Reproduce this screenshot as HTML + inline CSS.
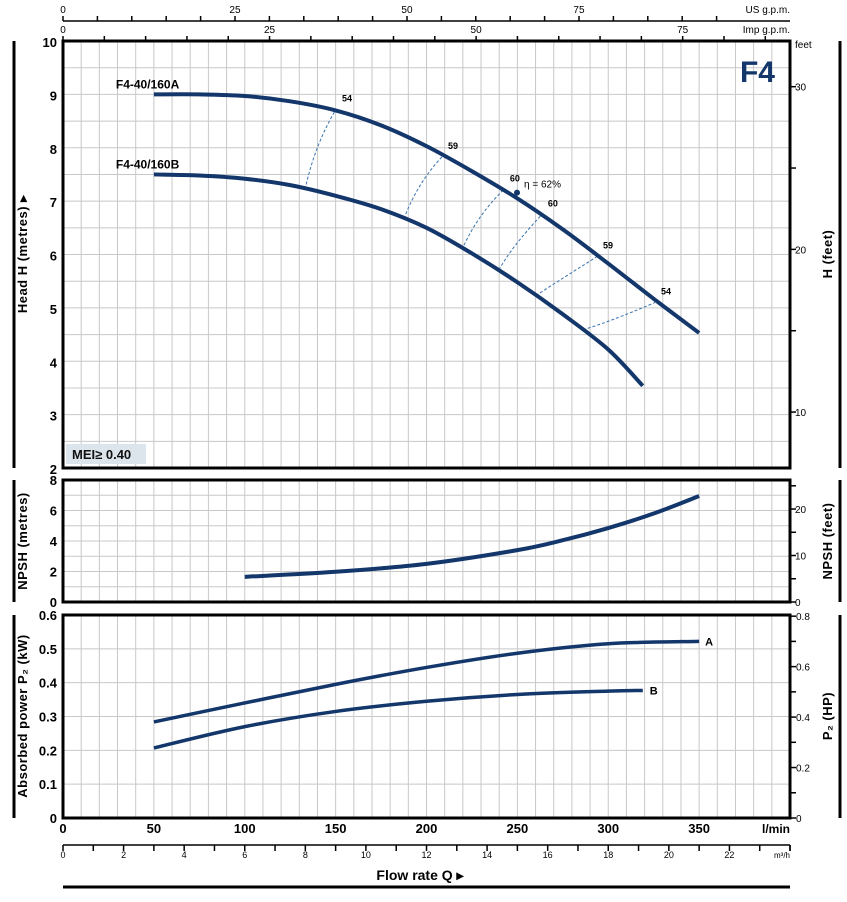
<!DOCTYPE html>
<html><head><meta charset="utf-8"><style>
html,body{margin:0;padding:0;background:#fff;}
svg{display:block;font-family:"Liberation Sans",sans-serif;}
</style></head><body>
<svg id="c" width="847" height="902" viewBox="0 0 847 902" xmlns="http://www.w3.org/2000/svg"></svg>
<script>
// ---- data ----
const headQA=[50,75,100,125,150,175,200,225,250,275,300,325,350];
const headHA=[9.0,9.0,8.97,8.87,8.7,8.42,8.03,7.56,7.05,6.47,5.83,5.17,4.53];
const headQB=[50,75,100,125,150,175,200,225,250,275,300,319];
const headHB=[7.5,7.48,7.42,7.3,7.1,6.85,6.5,6.02,5.48,4.88,4.22,3.54];
const effLabels=["54","59","60","60","59","54"];
const effQA=[150.2,208.5,242.6,263.5,293.8,325.7];
const effHA=[8.72,7.83,7.22,6.75,5.96,5.10];
const effQB=[133.2,187.6,219.5,239.9,260.2,286.1];
const effHB=[7.22,6.67,6.09,5.71,5.23,4.59];
const bepQ=249.8, bepH=7.16;
const npshQ=[100,150,200,250,275,300,325,350];
const npshV=[1.65,1.98,2.5,3.4,4.05,4.85,5.8,6.95];
const powQA=[50,100,150,200,250,300,350];
const powA=[0.284,0.34,0.395,0.445,0.487,0.515,0.522];
const powQB=[50,100,150,200,250,300,319];
const powB=[0.207,0.27,0.315,0.345,0.365,0.375,0.377];
const flowTicks=[0,50,100,150,200,250,300,350];

// ---- scales ----
const X0=63,X1=790;
const x=q=>X0+q*(X1-X0)/400;
const yH=h=>468-(h-2)*(468-41)/8;
const yN=n=>602-n*(602-480)/8;
const yP=p=>818-p*(818-615)/0.6;
const NS="http://www.w3.org/2000/svg";
const svg=document.getElementById('c');
function el(t,a,txt){const e=document.createElementNS(NS,t);for(const k in a)e.setAttribute(k,a[k]);if(txt!==undefined)e.textContent=txt;svg.appendChild(e);return e;}
function line(x1,y1,x2,y2,s,w){return el('line',{x1,y1,x2,y2,stroke:s,'stroke-width':w});}
function smooth(pts){let d=`M${pts[0][0]},${pts[0][1]}`;for(let i=0;i<pts.length-1;i++){const p0=pts[Math.max(0,i-1)],p1=pts[i],p2=pts[i+1],p3=pts[Math.min(pts.length-1,i+2)];d+=` C${p1[0]+(p2[0]-p0[0])/6},${p1[1]+(p2[1]-p0[1])/6} ${p2[0]-(p3[0]-p1[0])/6},${p2[1]-(p3[1]-p1[1])/6} ${p2[0]},${p2[1]}`;}return d;}
const G='#c8c8c8',NAVY='#13366b';

// grids
for(let q=10;q<400;q+=10){const g1=line(x(q),41,x(q),468,G,1);line(x(q),480,x(q),602,G,1);line(x(q),615,x(q),818,G,1);}
for(let h=2.5;h<10;h+=0.5)line(X0,yH(h),X1,yH(h),G,1);
for(let n=1;n<8;n++)line(X0,yN(n),X1,yN(n),G,1);
for(let p=0.1;p<0.59;p+=0.1)line(X0,yP(p),X1,yP(p),G,1);

// frames
[[41,468],[480,602],[615,818]].forEach(([a,b])=>{const r=el('rect',{x:X0,y:a,width:X1-X0,height:b-a,fill:'none',stroke:'#000','stroke-width':3});
 line(14,a,14,b,'#000',3);line(840,a,840,b,'#000',3);});

// left ticks labels
for(let h=2;h<=10;h++){const t=el('text',{x:57,y:yH(h)+6,'text-anchor':'end','font-size':13,'font-weight':'bold'},h);}
for(let n=0;n<=8;n+=2)el('text',{x:57,y:yN(n)+5,'text-anchor':'end','font-size':13,'font-weight':'bold'},n);
for(let i=0;i<=6;i++)el('text',{x:57,y:yP(i/10)+5,'text-anchor':'end','font-size':13,'font-weight':'bold'},i===0?'0':(i/10).toFixed(1));
// right axes
for(let f=10;f<=30;f+=5){const y=yH(f*0.3048);line(X1,y,X1+6,y,'#000',1.5);if(f%10==0)el('text',{x:X1+5,y:y+4,'font-size':10},f);}
el('text',{x:X1+5,y:48,'font-size':10},'feet');
for(let f=0;f<=25;f+=5){const y=yN(f*0.3048);line(X1,y,X1+6,y,'#000',1.5);if(f%10==0)el('text',{x:X1+5,y:y+4,'font-size':10},f);}
for(let hp=0;hp<=0.81;hp+=0.1){const y=yP(hp*0.7457);line(X1,y,X1+6,y,'#000',1.5);const k=Math.round(hp*10);if(k%2==0)el('text',{x:X1+6,y:y+4,'font-size':10},k===0?'0':(k/10).toFixed(1));}

// axis titles
function vt(tx,cx,cy,name){const t=el('text',{x:cx,y:cy,'text-anchor':'middle','font-size':13,'font-weight':'bold',transform:`rotate(-90 ${cx} ${cy})`,'letter-spacing':'0.5'},tx);}
vt('Head H  (metres)  ▸',27,254,'y-axis-title-head');
vt('H  (feet)',832,254,'y-axis-title-feet');
vt('NPSH  (metres)',27,541,'y-axis-title-npsh');
vt('NPSH  (feet)',832,541,'y-axis-title-npsh-feet');
vt('Absorbed power  P₂  (kW)',27,716,'y-axis-title-power');
vt('P₂  (HP)',832,716,'y-axis-title-hp');

// top axes
line(X0,21,X1,21,'#000',1.5);
for(let g=0;g<=95;g+=5){const xx=x(g*3.7854);line(xx,21,xx,16,'#000',1.5);if(g%25==0)el('text',{x:xx,y:13,'text-anchor':'middle','font-size':10},g);}
el('text',{x:X1,y:13,'text-anchor':'end','font-size':10},'US g.p.m.');
for(let g=0;g<=85;g+=5){const xx=x(g*4.546);line(xx,41,xx,36,'#000',1.5);if(g%25==0)el('text',{x:xx,y:33,'text-anchor':'middle','font-size':10},g);}
el('text',{x:X1,y:33,'text-anchor':'end','font-size':10},'Imp g.p.m.');

// bottom axes
flowTicks.forEach(q=>{const t=el('text',{x:x(q),y:833,'text-anchor':'middle','font-size':13,'font-weight':'bold'},q);});
el('text',{x:X1,y:833,'text-anchor':'end','font-size':12,'font-weight':'bold'},'l/min');
line(X0,845,X1,845,'#000',1.5);
for(let m=0;m<=24;m++){const xx=x(m*16.667);if(xx>X1+1)break;line(xx,845,xx,851,'#000',1.5);if(m%2==0&&m<=22)el('text',{x:xx,y:858,'text-anchor':'middle','font-size':9},m);}
line(X1,845,X1,851,'#000',1.5);
el('text',{x:X1,y:858,'text-anchor':'end','font-size':8},'m³/h');
const xt=el('text',{x:420,y:880,'text-anchor':'middle','font-size':14,'font-weight':'bold'},'Flow rate  Q  ▸');
line(X0,887,X1,887,'#000',3);

// MEI box and F4
const mb=el('rect',{x:66,y:444,width:80,height:20,fill:'#dde5ec'});
el('text',{x:72,y:459,'font-size':13,'font-weight':'bold',fill:'#111'},'MEI≥ 0.40');
const f4=el('text',{x:775,y:82,'text-anchor':'end','font-size':30,'font-weight':'bold',fill:NAVY},'F4');

// efficiency iso-lines
for(let i=0;i<effLabels.length;i++){
 const ax=x(effQA[i]),ay=yH(effHA[i]),bx=x(effQB[i]),by=yH(effHB[i]);
 const p=el('path',{d:`M${bx},${by} Q${(ax+bx)/2+(i<3?-6:-10)},${(ay+by)/2+(i<3?-4:6)} ${ax},${ay}`,fill:'none',stroke:'#3a73b0','stroke-width':1,'stroke-dasharray':'3,2'});
 
 el('text',{x:ax+6,y:ay-8,'font-size':9,'font-weight':'bold'},effLabels[i]);
}
el('circle',{cx:x(bepQ),cy:yH(bepH),r:3,fill:NAVY});
el('text',{x:x(bepQ)+7,y:yH(bepH)-5,'font-size':10},'η = 62%');

// head curves
const hA=el('path',{d:smooth(headQA.map((q,i)=>[x(q),yH(headHA[i])])),fill:'none',stroke:NAVY,'stroke-width':4});

const hB=el('path',{d:smooth(headQB.map((q,i)=>[x(q),yH(headHB[i])])),fill:'none',stroke:NAVY,'stroke-width':4});

el('text',{x:x(headQA[0])-38,y:yH(headHA[0])-6,'font-size':12,'font-weight':'bold'},'F4-40/160A');
el('text',{x:x(headQB[0])-38,y:yH(headHB[0])-6,'font-size':12,'font-weight':'bold'},'F4-40/160B');

// npsh
const nc=el('path',{d:smooth(npshQ.map((q,i)=>[x(q),yN(npshV[i])])),fill:'none',stroke:NAVY,'stroke-width':4});


// power
const pa=el('path',{d:smooth(powQA.map((q,i)=>[x(q),yP(powA[i])])),fill:'none',stroke:NAVY,'stroke-width':3.5});

const pb=el('path',{d:smooth(powQB.map((q,i)=>[x(q),yP(powB[i])])),fill:'none',stroke:NAVY,'stroke-width':3.5});

el('text',{x:x(powQA[powQA.length-1])+6,y:yP(powA[powA.length-1])+4,'font-size':11,'font-weight':'bold'},'A');
el('text',{x:x(powQB[powQB.length-1])+7,y:yP(powB[powB.length-1])+4,'font-size':11,'font-weight':'bold'},'B');
</script>
</body></html>
